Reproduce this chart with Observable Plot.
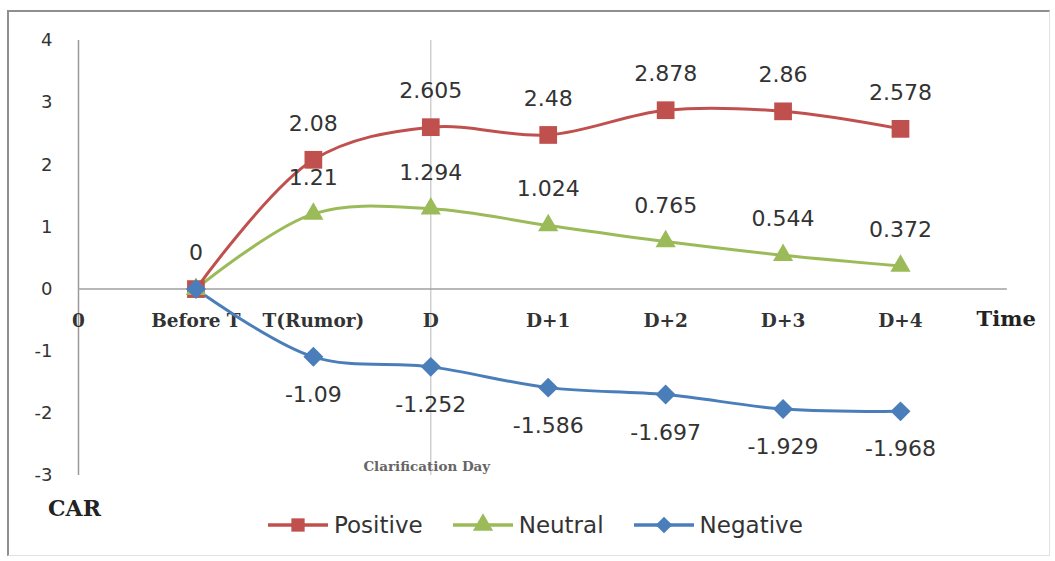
<!DOCTYPE html>
<html>
<head>
<meta charset="utf-8">
<script src="https://cdn.jsdelivr.net/npm/d3@7"></script>
<script src="https://cdn.jsdelivr.net/npm/@observablehq/plot@0.6"></script>
<style>
  html, body { margin: 0; padding: 0; background: #fff; }
  #wrap { position: relative; width: 1055px; height: 561px; overflow: hidden; }
  #border { position: absolute; left: 7px; top: 10px; width: 1043px; height: 546px;
            border-top: 2px solid #8f8f8f; border-left: 2px solid #8f8f8f;
            border-right: 1px solid #e2e2e2; border-bottom: 1px solid #e2e2e2; box-sizing: border-box; pointer-events: none; }
  #legend { position: absolute; top: 512px; left: 268px; display: flex; align-items: center;
            font-family: "DejaVu Sans", sans-serif; font-size: 23px; color: #333; }
  #legend .item { display: flex; align-items: center; margin-right: 30px; }
  #legend svg { margin-right: 4px; }
</style>
</head>
<body>
<div id="wrap">
  <div id="chart"></div>
  <div id="legend"></div>
  <div id="border"></div>
</div>
<script>
// Event window categories (index 0 is the origin of the time axis)
const categories = ["0", "Before T", "T(Rumor)", "D", "D+1", "D+2", "D+3", "D+4"];
const periods = ["Before T", "T(Rumor)", "D", "D+1", "D+2", "D+3", "D+4"];

// Cumulative abnormal returns by rumor type
const positive = [0, 2.08, 2.605, 2.48, 2.878, 2.86, 2.578];
const neutral = [0, 1.21, 1.294, 1.024, 0.765, 0.544, 0.372];
const negative = [0, -1.09, -1.252, -1.586, -1.697, -1.929, -1.968];

const seriesNames = ["Positive", "Neutral", "Negative"];
const seriesColors = ["#C0504D", "#9BBB59", "#4A7EBB"];
const seriesSymbols = ["square", "triangle", "diamond2"];
const seriesRadius = [10, 7.5, 9];
const yTicks = [-3, -2, -1, 0, 1, 2, 3, 4];
const clarificationIndex = categories.indexOf("D");
const axisEnd = 7.91;

const seriesValues = [positive, neutral, negative];
const rows = seriesValues.flatMap((vals, s) =>
  vals.map((v, i) => ({
    series: seriesNames[s],
    period: periods[i],
    x: categories.indexOf(periods[i]),
    v
  }))
);

// Labels: the shared "0" at Before T is written once, above the points
const labelsAbove = rows.filter(d => d.series !== "Negative" && !(d.series === "Neutral" && d.v === 0));
const labelsBelow = rows.filter(d => d.series === "Negative" && d.v !== 0);

const fmt = v => String(v);
const serif = "'DejaVu Serif', 'Liberation Serif', serif";
const sans = "'DejaVu Sans', sans-serif";

const marks = [
  // axis lines and the clarification-day marker line
  Plot.ruleX([0], {y1: yTicks[0], y2: yTicks[yTicks.length - 1], stroke: "#9a9a9a", strokeWidth: 1.5}),
  Plot.ruleX([clarificationIndex], {y1: yTicks[0], y2: yTicks[yTicks.length - 1], stroke: "#c4c4c4", strokeWidth: 1.2}),
  Plot.ruleY([0], {x1: 0, x2: axisEnd, stroke: "#a0a0a0", strokeWidth: 1.5}),
  Plot.axisY({ticks: yTicks, tickSize: 0, tickPadding: 26, tickFormat: d => String(d), label: null,
              fontSize: 18, fontFamily: sans, fill: "#333"}),
  // category labels alongside the zero line
  Plot.text(categories, {x: (d, i) => i, y: () => 0, dy: 32, text: d => d,
                         fontFamily: serif, fontWeight: "bold", fontSize: 18.5, fill: "#333"}),
  Plot.text(["Time"], {x: () => axisEnd - 0.01, y: () => 0, dy: 30, text: d => d,
                       fontFamily: serif, fontWeight: "bold", fontSize: 21, fill: "#222"}),
  Plot.text(["CAR"], {frameAnchor: "bottom-left", dx: -4, dy: 40, text: d => d, textAnchor: "middle",
                      fontFamily: serif, fontWeight: "bold", fontSize: 22, fill: "#222"}),
  Plot.text(["Clarification Day"], {x: () => clarificationIndex, y: () => yTicks[0], dx: -4, dy: -9, text: d => d,
                      fontFamily: serif, fontWeight: "bold", fontSize: 13.5, fill: "#666"}),
  // series lines (smoothed) and markers
  ...seriesNames.map((name, s) =>
    Plot.line(rows.filter(d => d.series === name), {x: "x", y: "v", stroke: seriesColors[s], strokeWidth: 3, curve: "catmull-rom"})
  ),
  ...seriesNames.map((name, s) =>
    Plot.dot(rows.filter(d => d.series === name), {x: "x", y: "v", fill: seriesColors[s], symbol: seriesSymbols[s], r: seriesRadius[s]})
  ),
  // value labels
  Plot.text(labelsAbove, {x: "x", y: "v", dy: -36, text: d => fmt(d.v), fontFamily: sans, fontSize: 22, fill: "#333"}),
  Plot.text(labelsBelow, {x: "x", y: "v", dy: 38, text: d => fmt(d.v), fontFamily: sans, fontSize: 22, fill: "#333"})
];

const chart = Plot.plot({
  width: 1055,
  height: 561,
  marginLeft: 78,
  marginRight: 155,
  marginTop: 40,
  marginBottom: 86,
  x: {type: "linear", domain: [0, categories.length - 1], axis: null},
  y: {domain: [yTicks[0], yTicks[yTicks.length - 1]], axis: null},
  style: {fontFamily: sans, fontSize: "18px", color: "#333", background: "white"},
  marks
});
document.getElementById("chart").appendChild(chart);

// Legend: line + marker swatches built from the series definitions
const legend = d3.select("#legend");
const symbolTypes = {square: d3.symbolSquare, triangle: d3.symbolTriangle, diamond2: d3.symbolDiamond2};
seriesNames.forEach((name, s) => {
  const item = legend.append("div").attr("class", "item");
  const sw = item.append("svg").attr("width", 62).attr("height", 24);
  sw.append("line").attr("x1", 0).attr("x2", 60).attr("y1", 12).attr("y2", 12)
    .attr("stroke", seriesColors[s]).attr("stroke-width", 3.5);
  sw.append("path").attr("transform", "translate(30,12)")
    .attr("d", d3.symbol(symbolTypes[seriesSymbols[s]], Math.PI * 7.5 * 7.5)())
    .attr("fill", seriesColors[s]);
  item.append("span").text(name);
});
</script>
</body>
</html>
